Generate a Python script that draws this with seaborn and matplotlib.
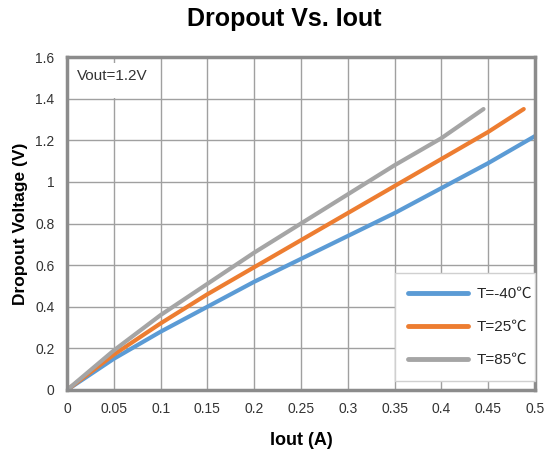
import numpy as np
import pandas as pd
import seaborn as sns
import matplotlib.pyplot as plt
from matplotlib.patches import Rectangle

# values
iout_cold = [0, 0.05, 0.1, 0.15, 0.2, 0.25, 0.3, 0.35, 0.4, 0.45, 0.5]
drop_cold = [0, 0.15, 0.28, 0.40, 0.52, 0.63, 0.74, 0.85, 0.97, 1.09, 1.22]
iout_room = [0, 0.05, 0.1, 0.15, 0.2, 0.25, 0.3, 0.35, 0.4, 0.45, 0.488]
drop_room = [0, 0.17, 0.32, 0.46, 0.59, 0.72, 0.85, 0.98, 1.11, 1.24, 1.35]
iout_hot = [0, 0.05, 0.1, 0.15, 0.2, 0.25, 0.3, 0.35, 0.4, 0.445]
drop_hot = [0, 0.19, 0.36, 0.51, 0.66, 0.80, 0.94, 1.08, 1.21, 1.35]
labels = ['T=-40℃', 'T=25℃', 'T=85℃']
colors = ['#5b9bd5', '#ed7d31', '#a5a5a5']

x_ticks = [0, 0.05, 0.1, 0.15, 0.2, 0.25, 0.3, 0.35, 0.4, 0.45, 0.5]
x_labels = ['0', '0.05', '0.1', '0.15', '0.2', '0.25', '0.3', '0.35', '0.4', '0.45', '0.5']
y_ticks = [0, 0.2, 0.4, 0.6, 0.8, 1.0, 1.2, 1.4, 1.6]
y_labels = ['0', '0.2', '0.4', '0.6', '0.8', '1', '1.2', '1.4', '1.6']

df = pd.concat([
    pd.DataFrame({'Iout': iout_cold, 'Dropout': drop_cold, 'Temp': labels[0]}),
    pd.DataFrame({'Iout': iout_room, 'Dropout': drop_room, 'Temp': labels[1]}),
    pd.DataFrame({'Iout': iout_hot, 'Dropout': drop_hot, 'Temp': labels[2]}),
])

sns.set_style('white')
plt.rcParams['font.family'] = ['Liberation Sans', 'Noto Sans CJK SC', 'DejaVu Sans']

fig = plt.figure(figsize=(5.47, 4.54), dpi=100)
ax = fig.add_axes([0.1225, 0.141, 0.8555, 0.7334])

sns.lineplot(data=df, x='Iout', y='Dropout', hue='Temp', palette=colors,
             linewidth=3, ax=ax, sort=False, estimator=None)

ax.set_xlim(0, 0.5)
ax.set_ylim(0, 1.6)
ax.set_xticks(x_ticks)
ax.set_xticklabels(x_labels, fontsize=10)
ax.set_yticks(y_ticks)
ax.set_yticklabels(y_labels, fontsize=10)
ax.tick_params(length=0, pad=9, colors='#333333')
ax.grid(True, color='#a0a0a0', linewidth=1)
for s in ax.spines.values():
    s.set_color('#8c8c8c')
    s.set_linewidth(2.5)

ax.set_xlabel('Iout (A)', fontsize=13, fontweight='bold', labelpad=11, color='black')
ax.set_ylabel('Dropout Voltage (V)', fontsize=12.5, fontweight='bold', labelpad=5, color='black')
fig.suptitle('Dropout Vs. Iout', x=0.52, y=0.985, fontsize=18, fontweight='bold', color='black')

# white note box in the top-left corner
ax.add_patch(Rectangle((0.002, 1.405), 0.094, 0.165, facecolor='white',
                       edgecolor='none', zorder=2))
ax.text(0.048, 1.51, 'Vout=1.2V', fontsize=11, color='#333333',
        ha='center', va='center', zorder=2.1)

leg = ax.legend(title=None, loc='lower left', bbox_to_anchor=(0.70, 0.027, 0.30, 0.28),
                mode='expand', fontsize=11, frameon=True, fancybox=False, handlelength=3.9,
                labelspacing=1.25, borderpad=0.9, handletextpad=0.6, borderaxespad=0)
leg.get_frame().set_edgecolor('#d0d0d0')
leg.get_frame().set_alpha(1)
for line in leg.get_lines():
    line.set_linewidth(3.5)

fig.savefig('out.png', dpi=100)
